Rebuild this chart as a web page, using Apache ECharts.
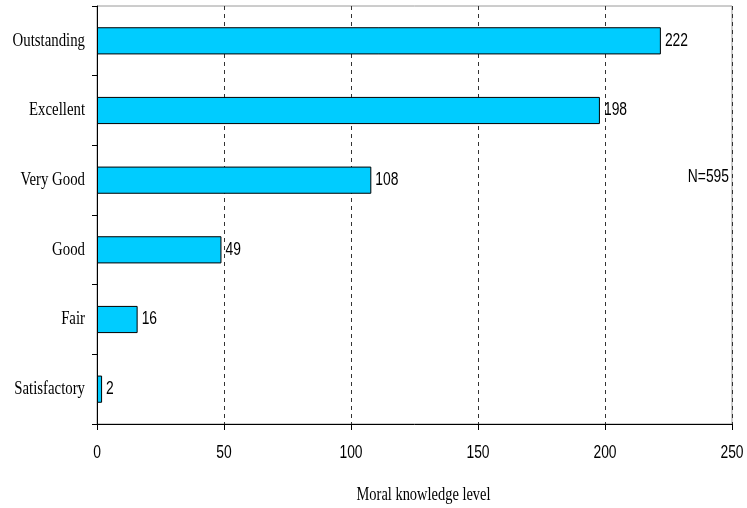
<!DOCTYPE html>
<html>
<head>
<meta charset="utf-8">
<script src="https://cdn.jsdelivr.net/npm/echarts@6/dist/echarts.min.js"></script>
<style>
  html, body { margin: 0; padding: 0; background: #fff; }
  #chart { width: 747px; height: 508px; }
</style>
</head>
<body>
<div id="chart"></div>
<script>
// Moral knowledge level of respondents (N=595)
const categories = ['Outstanding', 'Excellent', 'Very Good', 'Good', 'Fair', 'Satisfactory'];
const counts = [222, 198, 108, 49, 16, 2];
const xTicks = [0, 50, 100, 150, 200, 250];
const axisTitle = 'Moral knowledge level';
const sampleNote = 'N=595';

const chart = echarts.init(document.getElementById('chart'));

chart.setOption({
  animation: false,
  backgroundColor: '#ffffff',
  grid: {
    left: 97, right: 15, top: 6, bottom: 84,
    show: true, borderColor: '#9a9a9a', borderWidth: 1
  },
  xAxis: {
    type: 'value',
    min: xTicks[0],
    max: xTicks[xTicks.length - 1],
    interval: xTicks[1] - xTicks[0],
    axisLine: { show: true, lineStyle: { color: '#000', width: 1 } },
    axisTick: { show: true, length: 6, lineStyle: { color: '#000' } },
    axisLabel: { show: false },
    splitLine: { show: true, lineStyle: { color: '#333', type: [4, 4], width: 1 } }
  },
  yAxis: {
    type: 'category',
    data: categories,
    inverse: true,
    axisLine: { show: true, lineStyle: { color: '#000', width: 1 } },
    axisTick: { show: true, length: 5, lineStyle: { color: '#000' } },
    axisLabel: { show: false },
    splitLine: { show: false }
  },
  series: [{
    type: 'bar',
    data: counts,
    barWidth: '39%',
    itemStyle: { color: '#00ccff', borderColor: '#000', borderWidth: 1 },
    label: { show: false }
  }]
});

// Condensed text (labels, ticks, titles), placed from the axis scales
const serif = { fontFamily: 'Liberation Serif', fontSize: 19, fill: '#000' };
const sans = { fontFamily: 'Liberation Sans', fontSize: 18, fill: '#000' };
const SERIF_SCALE = 0.78;
const SANS_SCALE = 0.77;

const x0 = chart.convertToPixel({ xAxisIndex: 0 }, xTicks[0]);
const xEnd = chart.convertToPixel({ xAxisIndex: 0 }, xTicks[xTicks.length - 1]);
const xMid = (x0 + xEnd) / 2;
const yBase = chart.convertToPixel({ yAxisIndex: 0 }, categories[categories.length - 1]);
const band = yBase - chart.convertToPixel({ yAxisIndex: 0 }, categories[categories.length - 2]);
const axisBottom = yBase + band / 2;

function textEl(x, y, text, font, scale, align) {
  return {
    type: 'text', x: x, y: y, scaleX: scale, silent: true,
    style: Object.assign({ text: String(text), align: align, verticalAlign: 'middle' }, font)
  };
}

const graphics = [];

// category labels on the y axis
categories.forEach(function (cat) {
  graphics.push(textEl(x0 - 12, chart.convertToPixel({ yAxisIndex: 0 }, cat),
    cat, serif, SERIF_SCALE, 'right'));
});

// value labels at the end of each bar
counts.forEach(function (v, i) {
  const p = chart.convertToPixel({ gridIndex: 0 }, [v, categories[i]]);
  graphics.push(textEl(p[0] + 4, p[1], v, sans, SANS_SCALE, 'left'));
});

// x tick labels
xTicks.forEach(function (t) {
  graphics.push(textEl(chart.convertToPixel({ xAxisIndex: 0 }, t), axisBottom + 29,
    t, sans, SANS_SCALE, 'center'));
});

// axis title
graphics.push(textEl(xMid + 9, axisBottom + 71, axisTitle, serif, 0.76, 'center'));

// sample size note
graphics.push(textEl(xEnd - 3, chart.convertToPixel({ yAxisIndex: 0 }, categories[2]) - 3,
  sampleNote, sans, SANS_SCALE, 'right'));

chart.setOption({ graphic: graphics });
</script>
</body>
</html>
